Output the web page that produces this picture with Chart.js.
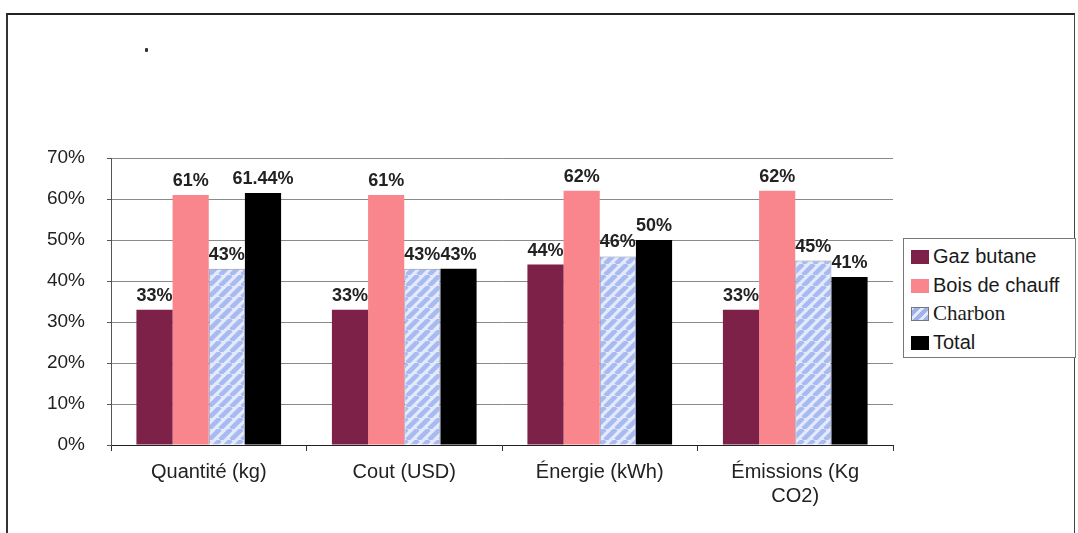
<!DOCTYPE html>
<html>
<head>
    <meta charset="utf-8">
    <title>Gaz butane / Bois / Charbon</title>
    <script src="https://cdn.jsdelivr.net/npm/chart.js"></script>
    <style>
        body { margin: 0; background: #fff; }
        #wrap { position: relative; width: 1078px; height: 533px; overflow: hidden; }
        #frame { position: absolute; left: 6px; top: 13px; width: 1066px; height: 518px;
                 border: 1px solid #444; border-left: 2px solid #333; border-top: 2px solid #222; }
        #dot { position: absolute; left: 145px; top: 48px; width: 3px; height: 4px; background: #333; border-radius: 1px; }
        #legend { position: absolute; left: 903px; top: 238px; width: 171px; height: 118px;
                  border: 1px solid #777; background: #fff; overflow: hidden; }
        .item { position: absolute; left: 7px; height: 24px; line-height: 24px; color: #1a1a1a; white-space: nowrap; }
        .sw { display: inline-block; width: 18px; height: 14px; margin-right: 4px; vertical-align: -1px; }
        canvas { position: absolute; left: 0; top: 0; }
    </style>
</head>
<body>
<div id="wrap">
    <div id="frame"></div>
    <div id="dot"></div>
    <canvas id="chart" width="1078" height="533"></canvas>
    <div id="legend"></div>
</div>
<script>
    const categories = ['Quantité (kg)', 'Cout (USD)', 'Énergie (kWh)', ['Émissions (Kg', 'CO2)']];
    const gazButane = [33, 33, 44, 33];
    const boisDeChauff = [61, 61, 62, 62];
    const charbon = [43, 43, 46, 45];
    const total = [61.44, 43, 50, 41];
    const yTicks = [0, 10, 20, 30, 40, 50, 60, 70];

    // diagonal blue/white hatch used for Charbon
    function stripePattern() {
        const c = document.createElement('canvas');
        c.width = 11; c.height = 11;
        const g = c.getContext('2d');
        g.fillStyle = '#e4e9fc';
        g.fillRect(0, 0, 11, 11);
        g.strokeStyle = '#a8bbf0';
        g.lineWidth = 4.6;
        g.beginPath();
        for (let k = -11; k <= 22; k += 11) {
            g.moveTo(k, 11);
            g.lineTo(k + 11, 0);
        }
        g.stroke();
        return g.createPattern(c, 'repeat');
    }

    const charbonFill = stripePattern();
    const sans = '"Liberation Sans", Arial, sans-serif';

    const series = [
        { label: 'Gaz butane', data: gazButane, color: '#7d2149', font: '20px ' + sans },
        { label: 'Bois de chauff', data: boisDeChauff, color: '#f8868c', font: '20px ' + sans },
        { label: 'Charbon', data: charbon, color: charbonFill, font: '21px "Liberation Serif", "Times New Roman", serif' },
        { label: 'Total', data: total, color: '#000000', font: '20px ' + sans }
    ];

    const valueLabels = {
        id: 'valueLabels',
        afterDatasetsDraw(chart) {
            const ctx = chart.ctx;
            ctx.save();
            ctx.font = 'bold 18px ' + sans;
            ctx.fillStyle = '#222';
            ctx.textAlign = 'center';
            ctx.textBaseline = 'alphabetic';
            chart.data.datasets.forEach((ds, i) => {
                chart.getDatasetMeta(i).data.forEach((bar, j) => {
                    const v = ds.data[j];
                    const txt = (v % 1 ? v.toFixed(2) : v) + '%';
                    ctx.fillText(txt, bar.x, bar.y - 9);
                });
            });
            ctx.restore();
        }
    };

    new Chart(document.getElementById('chart').getContext('2d'), {
        type: 'bar',
        data: {
            labels: categories,
            datasets: series.map(s => ({
                label: s.label,
                data: s.data,
                backgroundColor: s.color,
                borderColor: s.label === 'Charbon' ? '#8990b0' : s.color,
                borderWidth: s.label === 'Charbon' ? 1 : 0,
                categoryPercentage: 0.74,
                barPercentage: 1.0
            }))
        },
        options: {
            responsive: false,
            animation: false,
            layout: { padding: { left: 0, right: 185, top: 158, bottom: 0 } },
            plugins: { legend: { display: false }, tooltip: { enabled: false } },
            scales: {
                x: {
                    afterFit(scale) { scale.height = 88; },
                    grid: { offset: true, drawOnChartArea: false, drawTicks: true, tickLength: 6, color: '#333' },
                    border: { color: '#222', width: 1 },
                    ticks: {
                        color: '#222',
                        font: { family: sans, size: 20 },
                        padding: 9,
                        maxRotation: 0
                    }
                },
                y: {
                    min: 0,
                    max: 70,
                    afterFit(scale) { scale.width = 111; },
                    afterBuildTicks(scale) { scale.ticks = yTicks.map(v => ({ value: v })); },
                    grid: { color: '#8a8a8a', tickLength: 4, tickColor: '#555' },
                    border: { color: '#555' },
                    ticks: {
                        color: '#222',
                        font: { family: sans, size: 19 },
                        padding: 22,
                        callback: v => v + '%'
                    }
                }
            }
        },
        plugins: [valueLabels]
    });

    const legend = document.getElementById('legend');
    const legendTops = [5, 34, 62, 91];
    series.forEach((s, i) => {
        const item = document.createElement('div');
        item.className = 'item';
        item.style.top = legendTops[i] + 'px';
        item.style.font = s.font;
        item.style.lineHeight = '24px';
        const sw = document.createElement('span');
        sw.className = 'sw';
        if (s.label === 'Charbon') {
            sw.style.background = 'repeating-linear-gradient(-45deg, #9fb2ea 0 4px, #e4e9fc 4px 7px)';
            sw.style.border = '1px solid #777';
            sw.style.width = '16px'; sw.style.height = '12px';
        } else {
            sw.style.background = s.color;
        }
        item.appendChild(sw);
        item.appendChild(document.createTextNode(s.label));
        legend.appendChild(item);
    });
</script>
</body>
</html>
